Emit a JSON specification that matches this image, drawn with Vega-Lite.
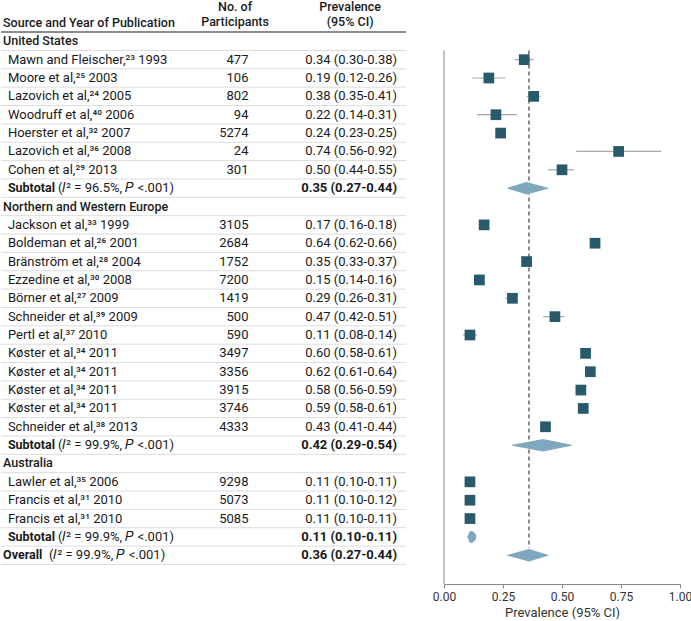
{
  "$schema": "https://vega.github.io/schema/vega-lite/v6.json",
  "padding": 0,
  "background": "white",
  "spacing": 38,
  "bounds": "flush",
  "config": {
    "view": {"stroke": null},
    "font": "Roboto",
    "text": {"font": "Roboto", "fontSize": 13, "color": "#1a1a1a"}
  },
  "datasets": {
    "rows": [
      {"row": -1, "kind": "header", "label": "Source and Year of Publication", "nhead": "No. of\nParticipants", "phead": "Prevalence\n(95% CI)"},
      {"row": 0, "kind": "group", "label": "United States"},
      {"row": 1, "kind": "study", "label": "Mawn and Fleischer,²³ 1993", "n": 477, "est": 0.34, "lo": 0.30, "hi": 0.38, "ci": "0.34 (0.30-0.38)"},
      {"row": 2, "kind": "study", "label": "Moore et al,²⁵ 2003", "n": 106, "est": 0.19, "lo": 0.12, "hi": 0.26, "ci": "0.19 (0.12-0.26)"},
      {"row": 3, "kind": "study", "label": "Lazovich et al,²⁴ 2005", "n": 802, "est": 0.38, "lo": 0.35, "hi": 0.41, "ci": "0.38 (0.35-0.41)"},
      {"row": 4, "kind": "study", "label": "Woodruff et al,⁴⁰ 2006", "n": 94, "est": 0.22, "lo": 0.14, "hi": 0.31, "ci": "0.22 (0.14-0.31)"},
      {"row": 5, "kind": "study", "label": "Hoerster et al,³² 2007", "n": 5274, "est": 0.24, "lo": 0.23, "hi": 0.25, "ci": "0.24 (0.23-0.25)"},
      {"row": 6, "kind": "study", "label": "Lazovich et al,³⁶ 2008", "n": 24, "est": 0.74, "lo": 0.56, "hi": 0.92, "ci": "0.74 (0.56-0.92)"},
      {"row": 7, "kind": "study", "label": "Cohen et al,²⁹ 2013", "n": 301, "est": 0.50, "lo": 0.44, "hi": 0.55, "ci": "0.50 (0.44-0.55)"},
      {"row": 8, "kind": "subtotal", "label": "Subtotal", "note": "(𝐼² = 96.5%, 𝑃 <.001)", "est": 0.35, "lo": 0.27, "hi": 0.44, "ci": "0.35 (0.27-0.44)"},
      {"row": 9, "kind": "group", "label": "Northern and Western Europe"},
      {"row": 10, "kind": "study", "label": "Jackson et al,³³ 1999", "n": 3105, "est": 0.17, "lo": 0.16, "hi": 0.18, "ci": "0.17 (0.16-0.18)"},
      {"row": 11, "kind": "study", "label": "Boldeman et al,²⁶ 2001", "n": 2684, "est": 0.64, "lo": 0.62, "hi": 0.66, "ci": "0.64 (0.62-0.66)"},
      {"row": 12, "kind": "study", "label": "Bränström et al,²⁸ 2004", "n": 1752, "est": 0.35, "lo": 0.33, "hi": 0.37, "ci": "0.35 (0.33-0.37)"},
      {"row": 13, "kind": "study", "label": "Ezzedine et al,³⁰ 2008", "n": 7200, "est": 0.15, "lo": 0.14, "hi": 0.16, "ci": "0.15 (0.14-0.16)"},
      {"row": 14, "kind": "study", "label": "Börner et al,²⁷ 2009", "n": 1419, "est": 0.29, "lo": 0.26, "hi": 0.31, "ci": "0.29 (0.26-0.31)"},
      {"row": 15, "kind": "study", "label": "Schneider et al,³⁹ 2009", "n": 500, "est": 0.47, "lo": 0.42, "hi": 0.51, "ci": "0.47 (0.42-0.51)"},
      {"row": 16, "kind": "study", "label": "Pertl et al,³⁷ 2010", "n": 590, "est": 0.11, "lo": 0.08, "hi": 0.14, "ci": "0.11 (0.08-0.14)"},
      {"row": 17, "kind": "study", "label": "Køster et al,³⁴ 2011", "n": 3497, "est": 0.60, "lo": 0.58, "hi": 0.61, "ci": "0.60 (0.58-0.61)"},
      {"row": 18, "kind": "study", "label": "Køster et al,³⁴ 2011", "n": 3356, "est": 0.62, "lo": 0.61, "hi": 0.64, "ci": "0.62 (0.61-0.64)"},
      {"row": 19, "kind": "study", "label": "Køster et al,³⁴ 2011", "n": 3915, "est": 0.58, "lo": 0.56, "hi": 0.59, "ci": "0.58 (0.56-0.59)"},
      {"row": 20, "kind": "study", "label": "Køster et al,³⁴ 2011", "n": 3746, "est": 0.59, "lo": 0.58, "hi": 0.61, "ci": "0.59 (0.58-0.61)"},
      {"row": 21, "kind": "study", "label": "Schneider et al,³⁸ 2013", "n": 4333, "est": 0.43, "lo": 0.41, "hi": 0.44, "ci": "0.43 (0.41-0.44)"},
      {"row": 22, "kind": "subtotal", "label": "Subtotal", "note": "(𝐼² = 99.9%, 𝑃 <.001)", "est": 0.42, "lo": 0.29, "hi": 0.54, "ci": "0.42 (0.29-0.54)"},
      {"row": 23, "kind": "group", "label": "Australia"},
      {"row": 24, "kind": "study", "label": "Lawler et al,³⁵ 2006", "n": 9298, "est": 0.11, "lo": 0.10, "hi": 0.11, "ci": "0.11 (0.10-0.11)"},
      {"row": 25, "kind": "study", "label": "Francis et al,³¹ 2010", "n": 5073, "est": 0.11, "lo": 0.10, "hi": 0.12, "ci": "0.11 (0.10-0.12)"},
      {"row": 26, "kind": "study", "label": "Francis et al,³¹ 2010", "n": 5085, "est": 0.11, "lo": 0.10, "hi": 0.11, "ci": "0.11 (0.10-0.11)"},
      {"row": 27, "kind": "subtotal", "label": "Subtotal", "note": "(𝐼² = 99.9%, 𝑃 <.001)", "est": 0.11, "lo": 0.10, "hi": 0.11, "ci": "0.11 (0.10-0.11)"},
      {"row": 28, "kind": "overall", "label": "Overall", "note": "(𝐼² = 99.9%, 𝑃 <.001)", "est": 0.36, "lo": 0.27, "hi": 0.44, "ci": "0.36 (0.27-0.44)"}
    ]
  },
  "resolve": {"scale": {"y": "shared"}},
  "hconcat": [
    {
      "width": 405,
      "height": 583,
      "data": {"name": "rows"},
      "encoding": {
        "y": {"field": "row", "type": "ordinal", "axis": null,
              "scale": {"domain": [-1,0,1,2,3,4,5,6,7,8,9,10,11,12,13,14,15,16,17,18,19,20,21,22,23,24,25,26,27,28], "paddingInner": 0, "paddingOuter": 0.88, "align": 0.395}}
      },
      "layer": [
        {
          "transform": [{"filter": "datum.row >= 0"}],
          "mark": {"type": "rule", "color": "#dcdcdc", "strokeWidth": 1},
          "encoding": {"y": {"field": "row", "type": "ordinal", "bandPosition": 1}}
        },
        {
          "transform": [{"filter": "datum.kind == 'header'"}],
          "mark": {"type": "rule", "color": "#666666", "strokeWidth": 1.5},
          "encoding": {"y": {"field": "row", "type": "ordinal", "bandPosition": 1}}
        },
        {
          "transform": [{"filter": "datum.kind == 'header' || datum.kind == 'group'"}],
          "mark": {"type": "text", "align": "left", "fontWeight": 500, "fontSize": 12.5},
          "encoding": {
            "x": {"datum": 0.005, "type": "quantitative", "scale": {"domain": [0, 1]}, "axis": null},
            "text": {"field": "label"}
          }
        },
        {
          "transform": [{"filter": "datum.kind == 'overall'"}],
          "mark": {"type": "text", "align": "left", "fontWeight": "bold", "fontSize": 12.5},
          "encoding": {
            "x": {"datum": 0.005, "type": "quantitative"},
            "text": {"field": "label"}
          }
        },
        {
          "transform": [{"filter": "datum.kind == 'subtotal'"}],
          "mark": {"type": "text", "align": "left", "fontWeight": "bold", "fontSize": 12.5},
          "encoding": {
            "x": {"datum": 0.017, "type": "quantitative"},
            "text": {"field": "label"}
          }
        },
        {
          "transform": [{"filter": "datum.kind == 'study'"}],
          "mark": {"type": "text", "align": "left"},
          "encoding": {
            "x": {"datum": 0.017, "type": "quantitative"},
            "text": {"field": "label"}
          }
        },
        {
          "transform": [{"filter": "datum.kind == 'subtotal'"}],
          "mark": {"type": "text", "align": "left", "dx": 50},
          "encoding": {
            "x": {"datum": 0.017, "type": "quantitative"},
            "text": {"field": "note"}
          }
        },
        {
          "transform": [{"filter": "datum.kind == 'overall'"}],
          "mark": {"type": "text", "align": "left", "dx": 46},
          "encoding": {
            "x": {"datum": 0.005, "type": "quantitative"},
            "text": {"field": "note"}
          }
        },
        {
          "transform": [{"filter": "datum.kind == 'study'"}],
          "mark": {"type": "text", "align": "right"},
          "encoding": {
            "x": {"datum": 0.611, "type": "quantitative"},
            "text": {"field": "n", "type": "quantitative", "format": "d"}
          }
        },
        {
          "transform": [{"filter": "datum.kind == 'study'"}],
          "mark": {"type": "text", "align": "right"},
          "encoding": {
            "x": {"datum": 0.978, "type": "quantitative"},
            "text": {"field": "ci"}
          }
        },
        {
          "transform": [{"filter": "datum.kind == 'subtotal' || datum.kind == 'overall'"}],
          "mark": {"type": "text", "align": "right", "fontWeight": "bold"},
          "encoding": {
            "x": {"datum": 0.978, "type": "quantitative"},
            "text": {"field": "ci"}
          }
        },
        {
          "transform": [{"filter": "datum.kind == 'header'"}],
          "mark": {"type": "text", "align": "center", "baseline": "alphabetic", "dy": -12, "lineBreak": "\n", "lineHeight": 15.5, "fontWeight": 500, "fontSize": 12.5},
          "encoding": {
            "x": {"datum": 0.578, "type": "quantitative"},
            "text": {"field": "nhead"}
          }
        },
        {
          "transform": [{"filter": "datum.kind == 'header'"}],
          "mark": {"type": "text", "align": "center", "baseline": "alphabetic", "dy": -12, "lineBreak": "\n", "lineHeight": 15.5, "fontWeight": 500, "fontSize": 12.5},
          "encoding": {
            "x": {"datum": 0.862, "type": "quantitative"},
            "text": {"field": "phead"}
          }
        }
      ]
    },
    {
      "width": 236,
      "height": 583,
      "data": {"name": "rows"},
      "encoding": {
        "y": {"field": "row", "type": "ordinal", "axis": null}
      },
      "layer": [
        {
          "transform": [{"filter": "datum.kind == 'overall'"}],
          "mark": {"type": "rule", "color": "#8a8a8a", "strokeWidth": 1},
          "encoding": {
            "x": {"datum": 0, "type": "quantitative",
                  "scale": {"domain": [0, 1], "nice": false, "zero": false},
                  "axis": {"title": "Prevalence (95% CI)", "values": [0, 0.25, 0.5, 0.75, 1], "format": ".2f", "grid": false,
                           "domainColor": "#8a8a8a", "tickColor": "#8a8a8a", "tickSize": 4, "labelFlush": false,
                           "labelFont": "Roboto", "labelFontSize": 12, "labelColor": "#333333", "labelPadding": 3,
                           "titleFont": "Roboto", "titleFontSize": 13, "titleFontWeight": "normal", "titleColor": "#333333", "titlePadding": 4}},
            "y": {"datum": 0, "type": "ordinal", "bandPosition": 1},
            "y2": {"value": "height"}
          }
        },
        {
          "transform": [{"filter": "datum.kind == 'overall'"}],
          "mark": {"type": "rule", "color": "#666666", "strokeWidth": 1.5, "strokeDash": [4, 3]},
          "encoding": {
            "x": {"field": "est", "type": "quantitative"},
            "y": {"datum": 0, "type": "ordinal", "bandPosition": 1},
            "y2": {"field": "row", "bandPosition": 0.1}
          }
        },
        {
          "transform": [{"filter": "datum.kind == 'study'"}],
          "mark": {"type": "rule", "color": "#a8a8a8", "strokeWidth": 1.2},
          "encoding": {
            "x": {"field": "lo", "type": "quantitative"},
            "x2": {"field": "hi"}
          }
        },
        {
          "transform": [{"filter": "datum.kind == 'study'"}],
          "mark": {"type": "point", "shape": "square", "filled": true, "size": 115, "color": "#285a6b", "opacity": 1},
          "encoding": {
            "x": {"field": "est", "type": "quantitative"}
          }
        },
        {
          "transform": [
            {"filter": "datum.kind == 'subtotal' || datum.kind == 'overall'"},
            {"fold": ["lo", "est", "hi"], "as": ["key", "value"]}
          ],
          "mark": {"type": "trail", "color": "#7fa8be"},
          "encoding": {
            "x": {"field": "value", "type": "quantitative"},
            "detail": {"field": "row"},
            "size": {"field": "key", "type": "ordinal", "legend": null,
                     "scale": {"type": "ordinal", "domain": ["lo", "est", "hi"], "range": [0, 12.5, 0]}}
          }
        }
      ]
    }
  ]
}
